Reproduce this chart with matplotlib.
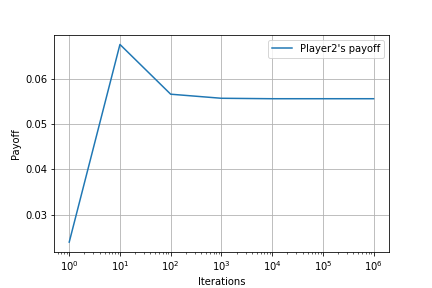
import matplotlib
matplotlib.use("Agg")
import matplotlib.pyplot as plt

# payoff of player 2 after n iterations
iterations = [1, 10, 100, 1000, 10000, 100000, 1000000]
payoff = [0.0239, 0.0676, 0.0566, 0.0557, 0.0556, 0.0556, 0.0556]

fig, ax = plt.subplots(figsize=(6, 4), dpi=72)
fig.subplots_adjust(left=0.125, right=0.9, top=0.88, bottom=0.125)
ax.plot(iterations, payoff, label="Player2's payoff")
ax.set_xscale('log')
ax.set_xlabel('Iterations')
ax.set_ylabel('Payoff')
ax.grid(True)
ax.legend(loc='upper right')

plt.savefig('out.png', dpi=72)
